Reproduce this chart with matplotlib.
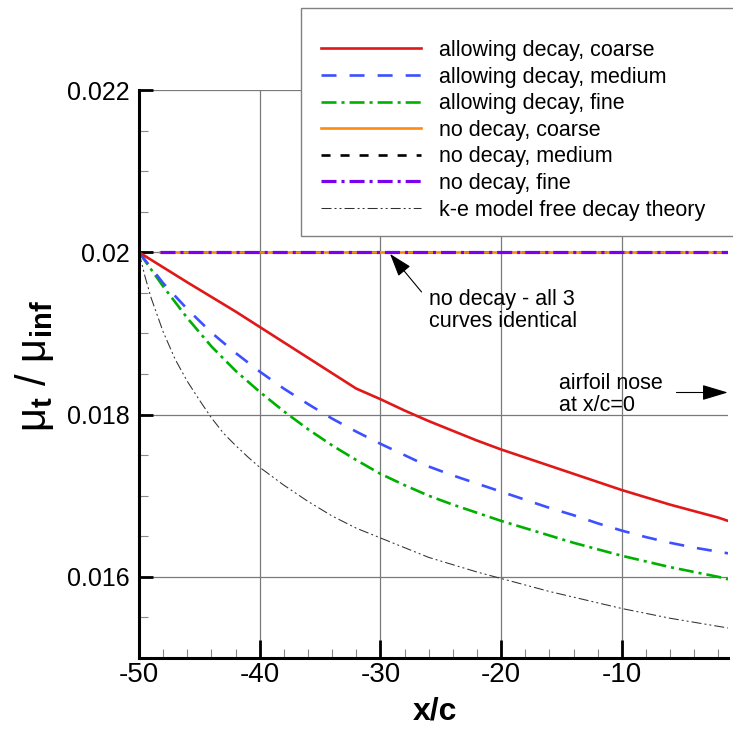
import matplotlib
matplotlib.use('Agg')
import matplotlib.pyplot as plt
from matplotlib.patches import Rectangle
from matplotlib.ticker import FixedLocator, FixedFormatter, MultipleLocator
from matplotlib.lines import Line2D

plt.rcParams['font.family'] = ['Liberation Sans', 'DejaVu Sans']
plt.rcParams['lines.scale_dashes'] = False
plt.rcParams['mathtext.fontset'] = 'custom'
plt.rcParams['mathtext.rm'] = 'Liberation Sans'
plt.rcParams['mathtext.it'] = 'Liberation Sans:italic'
plt.rcParams['mathtext.bf'] = 'Liberation Sans:bold'

# ---------------- data ----------------
x_coarse = [-50, -46, -42, -40, -36, -32, -30, -28, -26, -24, -22, -20, -18, -16,
            -14, -12, -10, -8, -6, -4, -2, -1.2]
y_coarse = [0.02, 0.01963, 0.01927, 0.01908, 0.01870, 0.01832, 0.01819, 0.01805,
            0.01792, 0.01780, 0.01768, 0.01757, 0.01747, 0.01737, 0.01727, 0.01717,
            0.01707, 0.01698, 0.01689, 0.01681, 0.01673, 0.01669]

x_grid = [-50, -48, -46, -44, -42, -40, -38, -36, -34, -32, -30, -28, -26, -24, -22,
          -20, -18, -16, -14, -12, -10, -8, -6, -4, -2, -1.2]
y_medium = [0.02, 0.01962, 0.01930, 0.01901, 0.01876, 0.01853, 0.01832, 0.01813,
            0.01795, 0.01779, 0.01764, 0.01750, 0.01736, 0.01725, 0.01715, 0.01705,
            0.01695, 0.01685, 0.01676, 0.01666, 0.01657, 0.01649, 0.01642, 0.01636,
            0.01631, 0.01629]
y_fine = [0.02, 0.01958, 0.01919, 0.01884, 0.01854, 0.01828, 0.01804, 0.01782,
          0.01762, 0.01744, 0.01727, 0.01713, 0.01700, 0.01689, 0.01679, 0.01669,
          0.01660, 0.01651, 0.01642, 0.01634, 0.01626, 0.01619, 0.01612, 0.01606,
          0.01600, 0.01597]

x_theory = [-50, -49.75, -49.5, -49, -48, -47, -46, -45, -44, -43, -42, -41, -40, -38,
            -36, -34, -32, -30, -28, -26, -24, -22, -20, -18, -16, -14, -12, -10,
            -8, -6, -4, -2, -1.2]
y_theory = [0.02, 0.01985, 0.01970, 0.01944, 0.01902, 0.01868, 0.01841, 0.01818,
            0.01796, 0.01777, 0.01762, 0.01748, 0.01735, 0.01713, 0.01693, 0.01675,
            0.01660, 0.01648, 0.01636, 0.01624, 0.01615, 0.01606, 0.01598, 0.01590,
            0.01582, 0.01575, 0.01568, 0.01561, 0.01555, 0.01549, 0.01544, 0.01539,
            0.01537]

x_nodecay = [-48.3, -1.2]
y_nodecay = [0.02, 0.02]

labels = ['allowing decay, coarse', 'allowing decay, medium', 'allowing decay, fine',
          'no decay, coarse', 'no decay, medium', 'no decay, fine',
          'k-e model free decay theory']

x_major = [-50, -40, -30, -20, -10]
x_major_labels = ['-50', '-40', '-30', '-20', '-10']
y_major = [0.016, 0.018, 0.02, 0.022]
y_major_labels = ['0.016', '0.018', '0.02', '0.022']

# ---------------- figure ----------------
W, H = 733, 731
fig = plt.figure(figsize=(W / 100, H / 100), dpi=100)
ax = fig.add_axes([139 / W, 1 - 658 / H, (728 - 139) / W, (658 - 90) / H])

lw = 1.9
sty_red = dict(color='#e01818', lw=lw, ls='-')
sty_blue = dict(color='#3c50ff', lw=lw, dashes=(10.8, 9.4))
sty_green = dict(color='#00b000', lw=lw, dashes=(10.8, 3.6, 2.2, 3.6))
sty_orange = dict(color='#ff8a10', lw=lw, ls='-')
sty_black = dict(color='black', lw=lw, dashes=(6.5, 7.2))
sty_purple = dict(color='#7a00f0', lw=2.3, dashes=(10.8, 3.6, 2.2, 3.6))
sty_theory = dict(color='#303030', lw=0.75, dashes=(7.2, 2.2, 1.4, 2.2, 1.4, 2.2))

ax.plot(x_theory, y_theory, **sty_theory)
ax.plot(x_grid, y_fine, **sty_green)
ax.plot(x_grid, y_medium, **sty_blue)
ax.plot(x_coarse, y_coarse, **sty_red)
ax.plot(x_nodecay, y_nodecay, **sty_black)
ax.plot(x_nodecay, y_nodecay, **sty_orange)
ax.plot(x_nodecay, y_nodecay, **sty_purple)

ax.set_xlim(-50, -1.2)
ax.set_ylim(0.015, 0.022)

ax.xaxis.set_major_locator(FixedLocator(x_major))
ax.xaxis.set_major_formatter(FixedFormatter(x_major_labels))
ax.xaxis.set_minor_locator(MultipleLocator(2))
ax.yaxis.set_major_locator(FixedLocator(y_major))
ax.yaxis.set_major_formatter(FixedFormatter(y_major_labels))
ax.yaxis.set_minor_locator(MultipleLocator(0.0005))

for s in ['top', 'right']:
    ax.spines[s].set_visible(False)
for s in ['left', 'bottom']:
    ax.spines[s].set_linewidth(2.2)
    ax.spines[s].set_color('black')

ax.set_axisbelow(True)
ax.grid(True, which='major', color='#7a7a7a', lw=0.9)

ax.tick_params(axis='x', which='major', direction='in', length=13, width=2.0,
               color='black', labelsize=20, pad=3)
ax.tick_params(axis='y', which='major', direction='in', length=10, width=2.0,
               color='black', labelsize=18, pad=6.5)
ax.tick_params(which='minor', direction='in', length=6.5, width=0.8, color='#888888')

ax.set_xlabel('x/c', fontsize=23, fontweight='bold', va='top')
ax.xaxis.set_label_coords((434.5 - 139) / 589, (658 - 697) / 568)
ax.set_ylabel(r'$\mathrm{\mu}_{\mathbf{t}}$ / $\mathrm{\mu}_{\mathbf{inf}}$',
              fontsize=30, va='center', ha='center')
ax.yaxis.set_label_coords((34 - 139) / 589, (658 - 366) / 568)

# annotations
ax.annotate('', xy=(-29.2, 0.01998), xytext=(-26.59, 0.019511),
            arrowprops=dict(arrowstyle='-|>,head_length=0.9,head_width=0.3',
                            color='black', lw=0.8, mutation_scale=16,
                            shrinkA=0, shrinkB=0))
ax.text(-25.98, 0.019544, 'no decay - all 3\ncurves identical', fontsize=15.5,
        ha='left', va='top', linespacing=1.06)

ax.annotate('', xy=(-1.22, 0.018272), xytext=(-5.47, 0.018272),
            arrowprops=dict(arrowstyle='-|>,head_length=1.0,head_width=0.3',
                            color='black', lw=0.8, mutation_scale=16,
                            shrinkA=0, shrinkB=0), annotation_clip=False)
ax.text(-15.22, 0.018509, 'airfoil nose\nat x/c=0', fontsize=15.5,
        ha='left', va='top', linespacing=1.06)

# legend box
rect = Rectangle((301 / W, 1 - 236 / H), (745 - 301) / W, (236 - 8) / H,
                 transform=fig.transFigure, facecolor='white', edgecolor='#808080',
                 lw=1.0, zorder=3)
fig.add_artist(rect)

fs_leg = 15.5
handles = [Line2D([], [], **sty_red), Line2D([], [], **sty_blue),
           Line2D([], [], **sty_green), Line2D([], [], **sty_orange),
           Line2D([], [], **sty_black), Line2D([], [], **sty_purple),
           Line2D([], [], **sty_theory)]
leg = fig.legend(handles, labels, loc='upper left',
                 bbox_to_anchor=(321 / W, 1 - 40 / H), frameon=False,
                 borderpad=0, borderaxespad=0, fontsize=fs_leg,
                 handlelength=72 / fs_leg, handletextpad=13 / fs_leg,
                 labelspacing=0.26)
leg.set_zorder(5)

fig.savefig('out.png', dpi=100)
